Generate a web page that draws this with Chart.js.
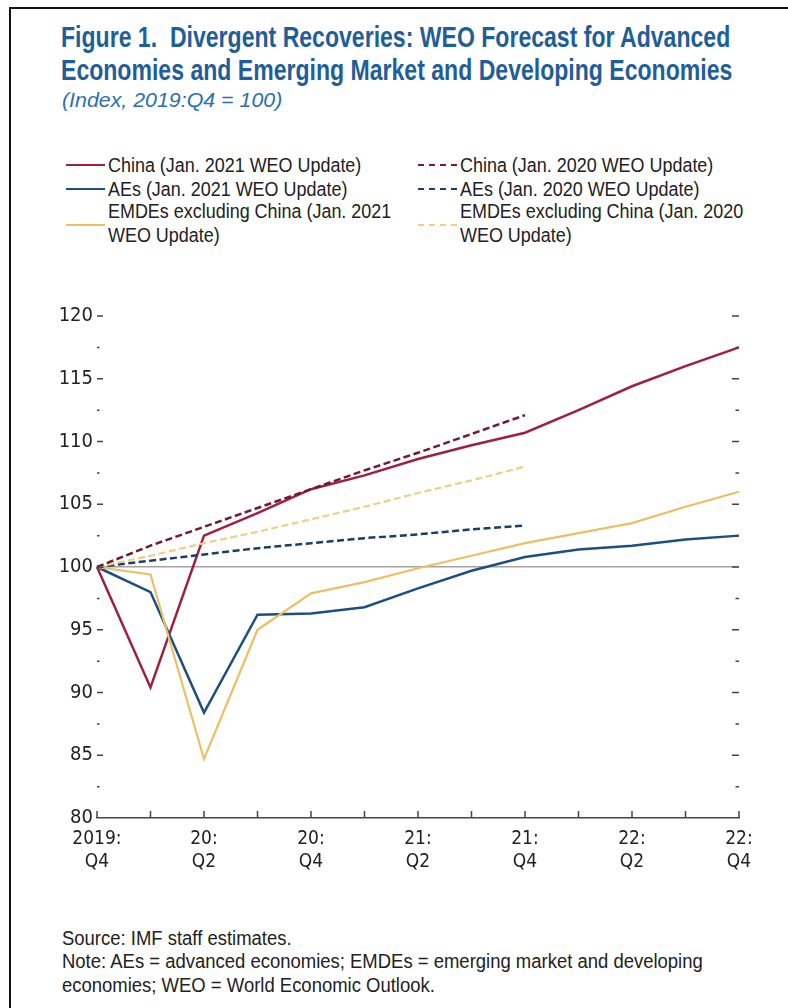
<!DOCTYPE html>
<html>
<head>
<meta charset="utf-8">
<title>Divergent Recoveries</title>
<script src="https://cdn.jsdelivr.net/npm/chart.js@4.4.1/dist/chart.umd.min.js"></script>
<style>
  body { margin: 0; background: #fff; }
  #page {
    position: relative; width: 788px; height: 1008px; overflow: hidden;
    font-family: "Liberation Sans", Arial, sans-serif; color: #222;
  }
  #frame { position: absolute; left: 9px; top: 7px; width: 800px; height: 1020px;
    border-left: 2.5px solid #111; border-top: 2.5px solid #111; }
  .ln { position: absolute; white-space: nowrap; transform-origin: 0 50%; }
  .title { font-size: 29px; font-weight: bold; color: #1f5e99; }
  .sub { font-size: 20px; font-style: italic; color: #2c6fae; }
  .leg { font-size: 20px; }
  .note { font-size: 20px; }
  .sw { position: absolute; width: 39px; height: 0; }
  #wrap { position: absolute; left: 0; top: 300px; width: 788px; height: 578px; }
</style>
</head>
<body>
<div id="page">
  <div id="frame"></div>
  <div id="texts"></div>
  <div id="wrap"><canvas id="fig"></canvas></div>
</div>
<script>
var quarters = ['2019:Q4', '2020:Q1', '2020:Q2', '2020:Q3', '2020:Q4', '2021:Q1', '2021:Q2',
                '2021:Q3', '2021:Q4', '2022:Q1', '2022:Q2', '2022:Q3', '2022:Q4'];
var tickLabels = [['2019:', 'Q4'], '', ['20:', 'Q2'], '', ['20:', 'Q4'], '', ['21:', 'Q2'], '',
                  ['21:', 'Q4'], '', ['22:', 'Q2'], '', ['22:', 'Q4']];

// Jan. 2021 WEO Update
var china2021 = [100, 90.4, 102.5, 104.3, 106.2, 107.3, 108.6, 109.7, 110.7, 112.5, 114.4, 116.0, 117.5];
var aes2021 = [100, 98.0, 88.4, 96.2, 96.3, 96.8, 98.3, 99.7, 100.8, 101.4, 101.7, 102.2, 102.5];
var emdes2021 = [100, 99.4, 84.7, 95.0, 97.9, 98.8, 99.9, 100.9, 101.9, 102.7, 103.5, 104.8, 106.0];

// Jan. 2020 WEO Update (forecast ends 2021:Q4)
var china2020 = [100, 101.7, 103.2, 104.7, 106.2, 107.7, 109.1, 110.6, 112.1, null, null, null, null];
var aes2020 = [100, 100.5, 101.0, 101.5, 101.9, 102.3, 102.6, 103.0, 103.3, null, null, null, null];
var emdes2020 = [100, 100.9, 101.9, 102.8, 103.8, 104.8, 105.9, 106.9, 108.0, null, null, null, null];

var titleLines = ['Figure 1.\u00a0 Divergent Recoveries: WEO Forecast for Advanced',
                  'Economies and Emerging Market and Developing Economies'];
var subtitle = '(Index, 2019:Q4 = 100)';
var noteLines = ['Source: IMF staff estimates.',
                 'Note: AEs = advanced economies; EMDEs = emerging market and developing',
                 'economies; WEO = World Economic Outlook.'];

var legendText = {
    china2021: 'China (Jan. 2021 WEO Update)',
    aes2021: 'AEs (Jan. 2021 WEO Update)',
    emdes2021: 'EMDEs excluding China (Jan. 2021 WEO Update)',
    china2020: 'China (Jan. 2020 WEO Update)',
    aes2020: 'AEs (Jan. 2020 WEO Update)',
    emdes2020: 'EMDEs excluding China (Jan. 2020 WEO Update)'
};

var red = '#a01f40', blue = '#1f4f80', gold = '#e9c064';

var datasets = [
    { label: legendText.china2020, data: china2020, borderColor: '#6f1b31', borderDash: [7, 3.5], borderWidth: 2.5 },
    { label: legendText.emdes2020, data: emdes2020, borderColor: '#edcf88', borderDash: [7, 3.5], borderWidth: 2.2 },
    { label: legendText.aes2020, data: aes2020, borderColor: '#1d3d62', borderDash: [7, 3.5], borderWidth: 2.5 },
    { label: legendText.emdes2021, data: emdes2021, borderColor: gold, borderWidth: 2.2 },
    { label: legendText.aes2021, data: aes2021, borderColor: blue, borderWidth: 2.5 },
    { label: legendText.china2021, data: china2021, borderColor: red, borderWidth: 2.5 }
];
datasets.forEach(function (d) {
    d.pointRadius = 0;
    d.tension = 0;
    d.fill = false;
});

// Arial Narrow is not installed: draw Liberation Sans and squeeze each group
// so that one reference line gets the width it has in the original
var box = document.getElementById('texts');
addLine = function (text, cls, x, cy) {
    var el = document.createElement('div');
    el.className = 'ln ' + cls;
    el.textContent = text;
    box.appendChild(el);
    el.style.left = x + 'px';
    el.style.top = (cy - el.offsetHeight / 2) + 'px';
    return el;
};
squeeze = function (els, refEl, width) {
    var k = width / refEl.offsetWidth;
    els.forEach(function (el) { el.style.transform = 'scaleX(' + k + ')'; });
};

createTexts = function () {
    var t1 = addLine(titleLines[0], 'title', 61, 37);
    var t2 = addLine(titleLines[1], 'title', 61, 70);
    squeeze([t1, t2], t2, 671);
    var s = addLine(subtitle, 'sub', 62, 100);
    squeeze([s], s, 220);

    var n = noteLines.map(function (l, i) { return addLine(l, 'note', 62, 938 + i * 23.5); });
    squeeze(n, n[1], 641);

    // legend, two columns, from the datasets
    var cols = [[legendText.china2021, legendText.aes2021, legendText.emdes2021],
                [legendText.china2020, legendText.aes2020, legendText.emdes2020]];
    var colX = [66, 418];
    var legEls = [], ref = null;
    cols.forEach(function (col, c) {
        var rowY = [165, 189, 211];
        col.forEach(function (label, r) {
            var ds = datasets.filter(function (d) { return d.label === label; })[0];
            var parts = label.length > 32 ? [label.replace(' WEO Update)', ''), 'WEO Update)'] : [label];
            parts.forEach(function (p, j) {
                var el = addLine(p, 'leg', colX[c] + 42, rowY[r] + j * 24);
                legEls.push(el);
                if (!ref) ref = el;
            });
            var sw = document.createElement('div');
            sw.className = 'sw';
            sw.style.left = colX[c] + 'px';
            sw.style.top = (rowY[r] + (parts.length - 1) * 14 - 1) + 'px';
            sw.style.borderTop = '2.5px ' + (ds.borderDash ? 'dashed ' : 'solid ') + ds.borderColor;
            box.appendChild(sw);
        });
    });
    squeeze(legEls, ref, 253);
};

// small tick marks inside the plot, as in the IMF style
var tickMarks = {
    id: 'tickMarks',
    afterDraw: function (chart) {
        var c = chart.ctx, a = chart.chartArea;
        var xs = chart.scales.x, ys = chart.scales.y;
        c.save();
        c.strokeStyle = '#444';
        c.lineWidth = 1.5;
        c.beginPath();
        for (var i = 0; i < quarters.length; i++) {
            var x = xs.getPixelForValue(i);
            c.moveTo(x, a.bottom);
            c.lineTo(x, a.bottom - 7);
        }
        ys.ticks.forEach(function (t) {
            if (t.value <= 80) return;
            var y = ys.getPixelForValue(t.value);
            var len = t.value % 5 === 0 ? 6 : 2.5;
            c.moveTo(a.left, y);
            c.lineTo(a.left + len, y);
            c.moveTo(a.right, y);
            c.lineTo(a.right - len - 1, y);
        });
        c.stroke();
        c.restore();
    }
};

createChart = function () {
    var ctx = document.getElementById('fig').getContext('2d');
    var tickFont = '"DejaVu Sans Condensed", "Liberation Sans", sans-serif';
    var fig = new Chart(ctx, {
        type: 'line',
        data: { labels: quarters, datasets: datasets },
        plugins: [tickMarks],
        options: {
            maintainAspectRatio: false,
            responsive: true,
            animation: false,
            layout: { padding: { left: 0, right: 49, top: 15, bottom: 0 } },
            plugins: { legend: { display: false }, tooltip: { enabled: false } },
            scales: {
                x: {
                    type: 'category',
                    offset: false,
                    grid: { display: false, drawTicks: false },
                    border: { display: true, color: '#444', width: 1.5 },
                    ticks: {
                        autoSkip: false, maxRotation: 0, padding: 10,
                        color: '#222',
                        font: { family: tickFont, size: 19, lineHeight: 1.2 },
                        callback: function (v, i) { return tickLabels[i]; }
                    },
                    afterFit: function (s) { s.height = 60; }
                },
                y: {
                    min: 80, max: 120,
                    grid: {
                        drawTicks: false,
                        color: function (c) { return c.tick && c.tick.value === 100 ? '#a3a3a3' : 'rgba(0,0,0,0)'; },
                        lineWidth: 1.5
                    },
                    border: { display: false },
                    ticks: {
                        stepSize: 2.5, autoSkip: false, padding: 4,
                        color: '#222',
                        font: { family: tickFont, size: 20 },
                        callback: function (v) { return v % 5 === 0 ? v : ''; }
                    },
                    afterFit: function (s) { s.width = 97; }
                }
            }
        }
    });
};

createTexts();
createChart();
</script>
</body>
</html>
